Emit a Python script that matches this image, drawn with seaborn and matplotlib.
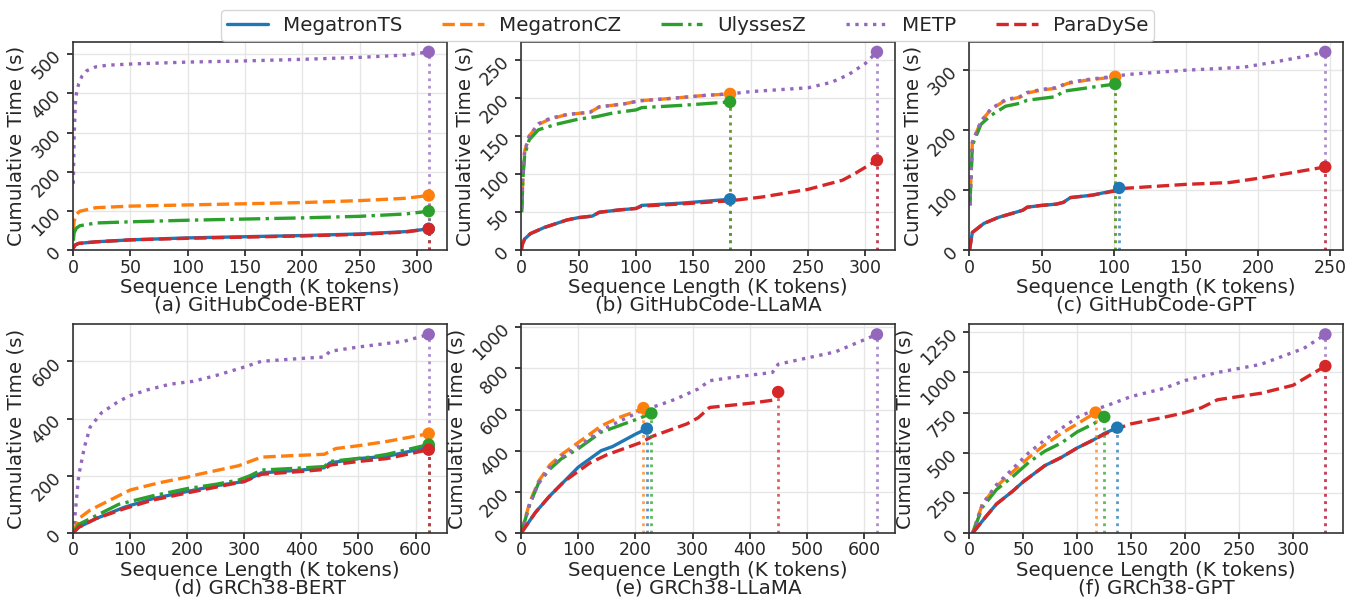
import numpy as np
import pandas as pd
import matplotlib
matplotlib.use("Agg")
import matplotlib.pyplot as plt
import seaborn as sns
from matplotlib.lines import Line2D

series_names = ["MegatronTS", "MegatronCZ", "UlyssesZ", "METP", "ParaDySe"]
panel_titles = ["(a) GitHubCode-BERT", "(b) GitHubCode-LLaMA", "(c) GitHubCode-GPT",
                "(d) GRCh38-BERT", "(e) GRCh38-LLaMA", "(f) GRCh38-GPT"]

# ---- (a) GitHubCode-BERT ----
a_ts_x = [0, 2, 5, 20, 50, 100, 150, 200, 250, 290, 310]
a_ts_y = [5, 14, 18, 22, 27, 32, 35, 38, 42, 48, 55]
a_cz_x = [0.3, 1, 3, 6, 20, 50, 100, 150, 200, 250, 290, 310]
a_cz_y = [50, 75, 92, 100, 109, 113, 116, 119, 122, 127, 133, 140]
a_uz_x = [0.3, 1, 3, 6, 20, 50, 100, 150, 200, 250, 290, 310]
a_uz_y = [25, 45, 57, 63, 70, 73, 77, 80, 83, 87, 93, 100]
a_me_x = [0.3, 1, 2, 3, 5, 8, 12, 20, 30, 50, 100, 150, 200, 250, 290, 310]
a_me_y = [170, 290, 370, 400, 425, 445, 458, 468, 472, 475, 480, 483, 487, 492, 498, 506]
a_pd_x = [0, 2, 5, 20, 50, 100, 150, 200, 250, 290, 310]
a_pd_y = [5, 14, 18, 22, 27, 31, 34, 37, 41, 47, 55]

# ---- (b) GitHubCode-LLaMA ----
b_ts_x = [0, 1, 3, 8, 20, 30, 40, 50, 62, 68, 85, 100, 105, 140, 182]
b_ts_y = [0, 8, 15, 22, 30, 35, 40, 43, 45, 50, 53, 55, 59, 62, 67]
b_cz_x = [0.5, 1.5, 3, 7, 15, 25, 40, 60, 68, 90, 103, 130, 160, 182]
b_cz_y = [55, 100, 130, 150, 165, 172, 178, 181, 188, 192, 196, 199, 203, 205]
b_uz_x = [0.5, 1.5, 3, 7, 15, 30, 50, 65, 80, 100, 105, 140, 182]
b_uz_y = [50, 95, 125, 145, 158, 165, 172, 175, 180, 184, 187, 190, 194.5]
b_me_x = [0.5, 1.5, 3, 7, 15, 25, 40, 60, 68, 90, 103, 130, 160, 182, 200, 250, 270, 285, 300, 310]
b_me_y = [55, 100, 130, 150, 166, 173, 178, 181, 188, 192, 196, 199, 203, 205, 208, 213, 220, 230, 245, 260]
b_pd_x = [0, 1, 3, 8, 20, 30, 40, 50, 62, 68, 85, 100, 105, 140, 182, 210, 250, 280, 290, 310]
b_pd_y = [0, 8, 15, 22, 30, 35, 40, 43, 45, 50, 53, 55, 58, 61, 65, 70, 80, 92, 100, 118]

# ---- (c) GitHubCode-GPT ----
c_ts_x = [0, 2, 10, 20, 30, 37, 40, 50, 60, 65, 70, 85, 101, 103.7]
c_ts_y = [0, 30, 45, 55, 62, 67, 72, 75, 77, 80, 88, 92, 100, 104]
c_cz_x = [0.3, 2, 8, 15, 25, 35, 40, 50, 60, 68, 80, 101]
c_cz_y = [75, 180, 215, 235, 250, 255, 262, 267, 270, 278, 283, 289]
c_uz_x = [0.3, 2, 8, 15, 25, 35, 40, 50, 60, 65, 80, 101]
c_uz_y = [75, 175, 210, 225, 240, 245, 250, 253, 256, 265, 270, 277]
c_me_x = [0.3, 2, 8, 15, 25, 35, 40, 50, 60, 68, 80, 101, 110, 150, 190, 210, 230, 246.5]
c_me_y = [75, 180, 215, 236, 251, 256, 263, 268, 271, 279, 284, 290, 293, 300, 305, 313, 322, 330.5]
c_pd_x = [0, 2, 10, 20, 30, 37, 40, 50, 60, 65, 70, 85, 101, 105, 150, 180, 200, 220, 246.5]
c_pd_y = [0, 30, 45, 55, 62, 67, 72, 75, 77, 80, 88, 92, 99, 103, 110, 113, 120, 128, 139]

# ---- (d) GRCh38-BERT ----
d_ts_x = [0, 10, 40, 90, 140, 200, 250, 300, 330, 400, 440, 450, 500, 550, 623]
d_ts_y = [0, 20, 50, 90, 120, 145, 165, 180, 210, 220, 228, 245, 260, 268, 300]
d_cz_x = [0, 10, 30, 60, 100, 150, 200, 220, 290, 310, 330, 380, 440, 460, 500, 550, 623]
d_cz_y = [0, 50, 80, 110, 150, 175, 195, 205, 235, 250, 265, 270, 275, 295, 305, 320, 347]
d_uz_x = [0, 10, 40, 80, 140, 200, 250, 290, 310, 330, 380, 440, 450, 520, 550, 623]
d_uz_y = [0, 30, 60, 100, 130, 155, 170, 185, 200, 220, 225, 232, 250, 265, 275, 309]
d_me_x = [0, 3, 10, 20, 30, 50, 80, 100, 130, 170, 210, 250, 300, 330, 400, 440, 450, 500, 580, 623]
d_me_y = [0, 50, 200, 300, 370, 420, 460, 480, 500, 520, 530, 550, 580, 600, 610, 615, 635, 650, 670, 694]
d_pd_x = [0, 10, 40, 90, 140, 200, 250, 300, 330, 400, 440, 450, 500, 550, 623]
d_pd_y = [0, 20, 50, 85, 115, 140, 160, 180, 205, 215, 222, 237, 250, 260, 291]

# ---- (e) GRCh38-LLaMA ----
e_ts_x = [0, 25, 50, 75, 100, 120, 140, 160, 180, 200, 220]
e_ts_y = [0, 100, 180, 250, 320, 360, 400, 420, 450, 480, 507]
e_cz_x = [0, 15, 30, 50, 70, 100, 120, 140, 170, 200, 214]
e_cz_y = [0, 150, 250, 330, 380, 440, 480, 520, 560, 590, 607]
e_uz_x = [0, 15, 30, 50, 70, 100, 120, 140, 170, 200, 228]
e_uz_y = [0, 140, 240, 310, 360, 410, 450, 490, 520, 550, 581]
e_me_x = [0, 15, 30, 50, 70, 100, 120, 140, 170, 200, 214, 240, 270, 310, 330, 380, 440, 450, 500, 550, 623]
e_me_y = [0, 140, 240, 320, 370, 420, 460, 500, 540, 580, 600, 620, 650, 700, 740, 760, 780, 820, 850, 880, 965]
e_pd_x = [0, 25, 50, 75, 100, 120, 150, 180, 210, 230, 260, 290, 310, 330, 400, 440, 450]
e_pd_y = [0, 100, 180, 250, 300, 340, 380, 410, 440, 470, 500, 530, 560, 610, 630, 645, 685]

# ---- (f) GRCh38-GPT ----
f_ts_x = [3, 15, 25, 40, 50, 60, 70, 85, 100, 115, 125, 137]
f_ts_y = [0, 100, 180, 260, 320, 370, 420, 470, 530, 580, 620, 656]
f_cz_x = [3, 12, 25, 40, 55, 70, 85, 100, 117]
f_cz_y = [0, 180, 290, 380, 470, 550, 620, 680, 750]
f_uz_x = [3, 12, 25, 40, 55, 70, 85, 100, 115, 125]
f_uz_y = [0, 160, 270, 350, 440, 510, 560, 630, 680, 723]
f_me_x = [3, 12, 25, 40, 55, 70, 85, 100, 117, 130, 150, 180, 200, 230, 270, 290, 310, 330]
f_me_y = [0, 180, 300, 400, 500, 580, 650, 720, 770, 800, 850, 900, 950, 1000, 1050, 1100, 1150, 1237]
f_pd_x = [3, 15, 25, 40, 50, 60, 70, 85, 100, 115, 125, 137, 150, 180, 200, 215, 230, 250, 270, 300, 310, 330]
f_pd_y = [0, 100, 180, 260, 320, 370, 420, 470, 530, 580, 615, 650, 680, 720, 750, 780, 830, 850, 870, 920, 960, 1040]

panels = [
    [(a_ts_x, a_ts_y), (a_cz_x, a_cz_y), (a_uz_x, a_uz_y), (a_me_x, a_me_y), (a_pd_x, a_pd_y)],
    [(b_ts_x, b_ts_y), (b_cz_x, b_cz_y), (b_uz_x, b_uz_y), (b_me_x, b_me_y), (b_pd_x, b_pd_y)],
    [(c_ts_x, c_ts_y), (c_cz_x, c_cz_y), (c_uz_x, c_uz_y), (c_me_x, c_me_y), (c_pd_x, c_pd_y)],
    [(d_ts_x, d_ts_y), (d_cz_x, d_cz_y), (d_uz_x, d_uz_y), (d_me_x, d_me_y), (d_pd_x, d_pd_y)],
    [(e_ts_x, e_ts_y), (e_cz_x, e_cz_y), (e_uz_x, e_uz_y), (e_me_x, e_me_y), (e_pd_x, e_pd_y)],
    [(f_ts_x, f_ts_y), (f_cz_x, f_cz_y), (f_uz_x, f_uz_y), (f_me_x, f_me_y), (f_pd_x, f_pd_y)],
]

colors = ["#1f77b4", "#ff7f0e", "#2ca02c", "#9467bd", "#d62728"]
styles = ["-", "--", "-.", ":", "--"]

sns.set_theme(style="ticks")
plt.rcParams["font.family"] = ["DejaVu Sans"]
plt.rcParams["axes.edgecolor"] = "#333333"
plt.rcParams["axes.linewidth"] = 1.2

fig, axes = plt.subplots(2, 3, figsize=(13.64, 6.08), dpi=100)
fig.subplots_adjust(left=0.0535, right=0.9846, top=0.931, bottom=0.1234, wspace=0.2, hspace=0.355)

for idx, ax in enumerate(axes.flat):
    for s, (xs, ys) in enumerate(panels[idx]):
        df = pd.DataFrame({"x": xs, "y": ys})
        sns.lineplot(data=df, x="x", y="y", ax=ax, color=colors[s], linestyle=styles[s],
                     linewidth=2.4, estimator=None, sort=False, legend=False)
    for s, (xs, ys) in enumerate(panels[idx]):
        ax.plot([xs[-1], xs[-1]], [0, ys[-1]], linestyle=":", color=colors[s], linewidth=2, alpha=0.75)
        sns.scatterplot(x=[xs[-1]], y=[ys[-1]], ax=ax, color=colors[s], s=80, edgecolor="none",
                        zorder=5, legend=False)
    ax.set_xlim(left=0)
    ax.set_ylim(bottom=0)
    ax.grid(True, color="#e6e6e6", linewidth=1)
    ax.set_axisbelow(True)
    ax.set_xlabel("Sequence Length (K tokens)\n" + panel_titles[idx], fontsize=14.3, labelpad=1,
                  linespacing=0.9)
    ax.set_ylabel("Cumulative Time (s)", fontsize=14.3, labelpad=2)
    ax.tick_params(axis="both", labelsize=12.5, length=4, pad=2)
    for lab in ax.get_yticklabels():
        lab.set_rotation(45)

handles = [Line2D([0], [0], color=colors[i], linestyle=styles[i], linewidth=2.4) for i in range(5)]
fig.legend(handles, series_names, loc="upper center", ncol=5, fontsize=14.3,
           bbox_to_anchor=(0.504, 1.0), frameon=True, handlelength=2.1, handletextpad=0.75,
           columnspacing=2.0, borderpad=0.3, fancybox=True)

fig.savefig("out.png", dpi=100)
